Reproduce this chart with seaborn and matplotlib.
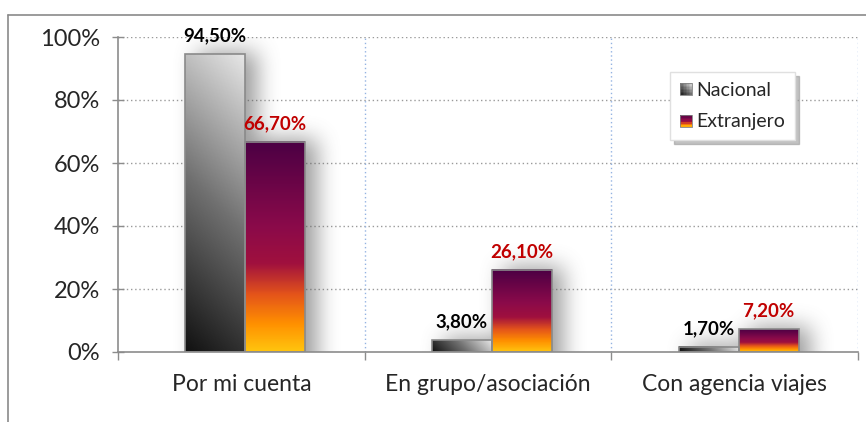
import numpy as np
import pandas as pd
import matplotlib
matplotlib.use("Agg")
import matplotlib.pyplot as plt
import seaborn as sns
from matplotlib.colors import LinearSegmentedColormap
from matplotlib.legend_handler import HandlerBase
from matplotlib.patches import Rectangle
from matplotlib.lines import Line2D

# data
categories = ["Por mi cuenta", "En grupo/asociación", "Con agencia viajes"]
series = ["Nacional", "Extranjero"]
nacional = [94.5, 3.8, 1.7]
extranjero = [66.7, 26.1, 7.2]
y_ticks = [0, 20, 40, 60, 80, 100]

df = pd.DataFrame({
    "categoria": categories * 2,
    "serie": [series[0]] * 3 + [series[1]] * 3,
    "valor": nacional + extranjero,
})

GRAY = "#8c8c8c"
nac_cmap = LinearSegmentedColormap.from_list(
    "nac", [(0, "#111111"), (0.5, "#707070"), (1, "#e6e6e6")])
ext_cmap = LinearSegmentedColormap.from_list(
    "ext", [(0, "#ffc40e"), (0.13, "#ff9000"), (0.27, "#e4541a"),
            (0.42, "#a0103e"), (0.6, "#8a0a4a"), (1, "#4c0044")])
label_colors = ["black", "#c00000"]

sns.set_theme(style="white")
plt.rcParams["font.family"] = ["Lato", "DejaVu Sans"]

fig = plt.figure(figsize=(8.66, 4.22), dpi=100)
AX_W, AX_H = 740, 315
ax = fig.add_axes([118 / 866, 1 - 352 / 422, AX_W / 866, AX_H / 422])

sns.barplot(data=df, x="categoria", y="valor", hue="serie", order=categories,
            hue_order=series, palette=["#777777", "#8a0a4a"], width=0.486,
            saturation=1, edgecolor="#8a8a8a", linewidth=1.2, legend=False, ax=ax)


def box_blur(a, r, axis):
    pad = [(0, 0), (0, 0)]
    pad[axis] = (r + 1, r)
    c = np.cumsum(np.pad(a, pad, mode="edge"), axis=axis)
    if axis == 0:
        return (c[2 * r + 1:] - c[:-2 * r - 1]) / (2 * r + 1)
    return (c[:, 2 * r + 1:] - c[:, :-2 * r - 1]) / (2 * r + 1)


# gradient fills + soft drop shadow
mask = np.zeros((AX_H, AX_W))
for i, cont in enumerate(ax.containers):
    for bar in cont:
        bar.set_x(bar.get_x() + 0.016)
        x, w, h = bar.get_x(), bar.get_width(), bar.get_height()
        w_px, h_px = w / 3 * AX_W, h / 100 * AX_H
        u, v = np.meshgrid(np.linspace(0, 1, 60), np.linspace(0, 1, 120))
        if i == 0:
            t = (u * w_px + v * h_px) / (w_px + h_px)
            img = nac_cmap(t)
        else:
            img = ext_cmap(v)
        ax.imshow(img, extent=(x, x + w, 0, h), origin="lower", aspect="auto",
                  zorder=2.5, interpolation="bilinear")
        bar.set_facecolor("none")
        bar.set_zorder(3)
        px0 = int((x + 0.5) / 3 * AX_W) + 12
        px1 = int((x + w + 0.5) / 3 * AX_W) + 12
        mask[:int(h_px) + 3, max(px0, 0):min(px1, AX_W)] = 1
        ax.annotate(f"{h:.2f}%".replace(".", ","), (x + w / 2, h),
                    xytext=(0, 7), textcoords="offset points", ha="center",
                    va="bottom", fontsize=13.5, fontweight="bold",
                    color=label_colors[i], zorder=5)

for _ in range(3):
    mask = box_blur(box_blur(mask, 10, 0), 10, 1)
shadow = np.zeros((AX_H, AX_W, 4))
shadow[..., :3] = 0.35
shadow[..., 3] = mask * 0.6
ax.imshow(shadow, extent=(-0.5, 2.5, 0, 100), origin="lower", aspect="auto",
          zorder=1, interpolation="bilinear")

ax.set_xlim(-0.5, 2.5)
ax.set_ylim(0, 100)

# gridlines
for y in y_ticks[1:]:
    ax.axhline(y, color="#9a9a9a", ls=(0, (1, 2)), lw=1, zorder=0.5)
for xg in [0.5, 1.5, 2.5]:
    ax.axvline(xg, color="#94b3e2", ls=(0, (1, 2)), lw=1, zorder=0.5)

for side in ["top", "right"]:
    ax.spines[side].set_visible(False)
for side in ["left", "bottom"]:
    ax.spines[side].set_color(GRAY)
    ax.spines[side].set_linewidth(1.2)
    ax.spines[side].set_zorder(4)

ax.set_yticks(y_ticks)
ax.set_yticklabels([f"{t}%" for t in y_ticks])
ax.tick_params(axis="y", direction="inout", length=8, width=1, color=GRAY,
               labelsize=17, pad=9, left=True)
ax.set_xticks(range(len(categories)))
ax.set_xticklabels(categories)
ax.set_xticks([-0.5, 0.5, 1.5, 2.5], minor=True)
ax.tick_params(axis="x", which="major", length=0, labelsize=16.5, pad=16)
ax.tick_params(axis="x", which="minor", direction="out", length=6, width=1,
               color=GRAY, bottom=True)
ax.set_xlabel("")
ax.set_ylabel("")


class GradientHandler(HandlerBase):
    def __init__(self, cmap, diagonal, **kw):
        super().__init__(**kw)
        self.cmap = cmap
        self.diagonal = diagonal

    def create_artists(self, legend, orig_handle, xdescent, ydescent, width,
                       height, fontsize, trans):
        size = 12 * 72 / 100
        x0 = -xdescent + width - size
        y0 = -ydescent + (height - size) / 2
        n = 8
        arts = []
        for a in range(n):
            for b in range(n):
                t = (a + b + 1) / (2 * n) if self.diagonal else (b + 0.5) / n
                arts.append(Rectangle((x0 + a * size / n, y0 + b * size / n),
                                      size / n, size / n, facecolor=self.cmap(t),
                                      edgecolor="none", transform=trans))
        arts.append(Rectangle((x0, y0), size, size, facecolor="none",
                              edgecolor="#808080", lw=0.6, transform=trans))
        return arts


h_nac, h_ext = Rectangle((0, 0), 1, 1), Rectangle((0, 0), 1, 1)
leg = ax.legend([h_nac, h_ext], series, loc="upper left",
                bbox_to_anchor=(670 / 866, 1 - 72 / 422),
                bbox_transform=fig.transFigure, borderaxespad=0,
                fontsize=14, labelspacing=0.75, handlelength=0.62,
                handletextpad=0.25, borderpad=0.5, frameon=True, fancybox=False,
                shadow={"ox": 3, "oy": -3, "color": "#9a9a9a", "alpha": 0.6},
                handler_map={h_nac: GradientHandler(nac_cmap, True),
                             h_ext: GradientHandler(ext_cmap, False)})
leg.get_frame().set_facecolor("white")
leg.get_frame().set_edgecolor("#e0e0e0")
leg.set_zorder(6)

# chart area border
fig.add_artist(Line2D([8 / 866, 8 / 866], [0, 1 - 15 / 422],
                      transform=fig.transFigure, color="#8a8a8a", lw=1.2))
fig.add_artist(Line2D([8 / 866, 1], [1 - 15 / 422, 1 - 15 / 422],
                      transform=fig.transFigure, color="#8a8a8a", lw=1.2))

fig.savefig("out.png", dpi=100)
